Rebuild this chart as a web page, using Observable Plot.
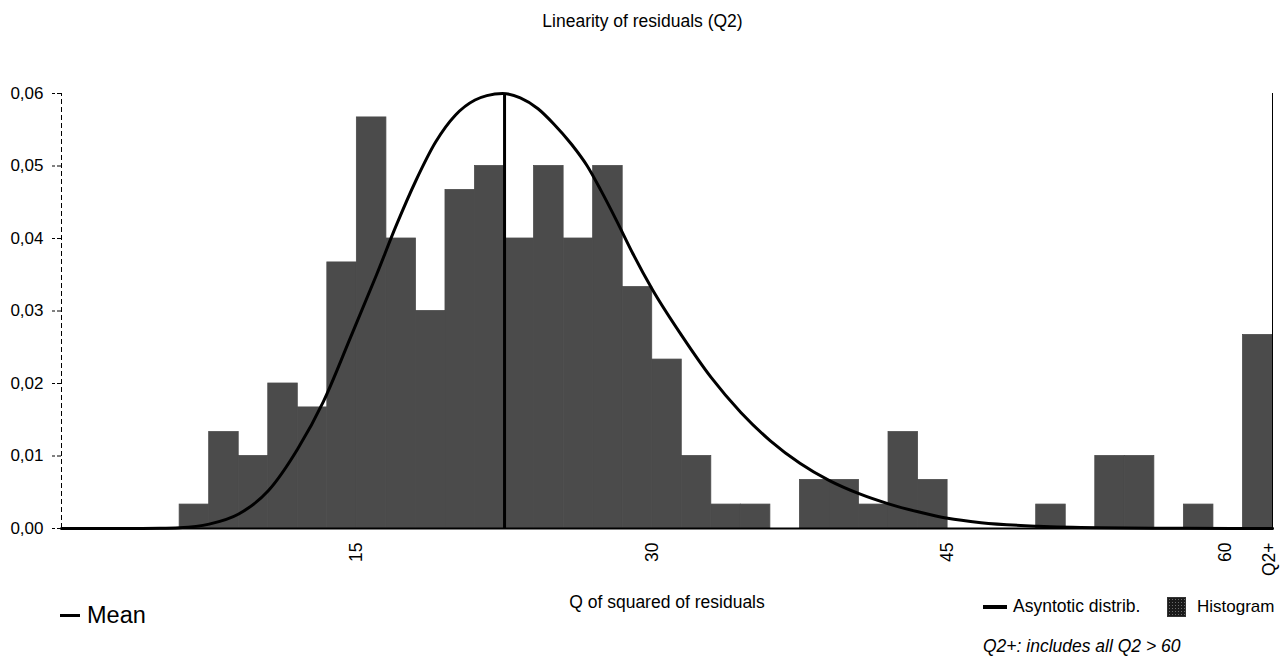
<!DOCTYPE html>
<html>
<head>
<meta charset="utf-8">
<script src="https://cdn.jsdelivr.net/npm/d3@7"></script>
<script src="https://cdn.jsdelivr.net/npm/@observablehq/plot@0.6"></script>
<style>
  body { margin: 0; background: #fff; font-family: "Liberation Sans", Arial, sans-serif; color: #000; }
  #wrap { position: relative; width: 1285px; height: 666px; overflow: hidden; background: #fff; }
  #title { position: absolute; left: 0; top: 10px; width: 1285px; text-align: center; font-size: 17.5px; line-height: 22px; }
  #chart { position: absolute; left: 0; top: 40px; }
  .lg { position: absolute; white-space: nowrap; }
  .dash { position: absolute; background: #000; }
  .sw { position: absolute; background-color: #1a1a1a;
        background-image: radial-gradient(#6a6a6a 0.8px, transparent 0.9px);
        background-size: 3px 3px; border: 1px solid #333; box-sizing: border-box; }
</style>
</head>
<body>
<div id="wrap">
  <div id="title">Linearity of residuals (Q2)</div>
  <div id="chart"></div>

  <div class="dash" style="left:60px;top:614px;width:20px;height:3px;"></div>
  <div class="lg" style="left:87px;top:601px;font-size:23.5px;line-height:28px;">Mean</div>

  <div class="dash" style="left:983px;top:605px;width:24px;height:4px;"></div>
  <div class="lg" style="left:1013px;top:596px;font-size:17.5px;line-height:21px;">Asyntotic distrib.</div>
  <div class="sw" style="left:1167px;top:597px;width:19px;height:20px;"></div>
  <div class="lg" style="left:1197px;top:596px;font-size:17px;line-height:21px;">Histogram</div>
  <div class="lg" style="left:983px;top:636px;font-size:17.5px;line-height:21px;font-style:italic;">Q2+: includes all Q2 &gt; 60</div>
</div>

<script>
// ---- Histogram bins (Q of squared residuals), bin width 1.5 ----
const binLo = [6, 7.5, 9, 10.5, 12, 13.5, 15, 16.5, 18, 19.5, 21, 22.5, 24, 25.5, 27, 28.5, 30, 31.5, 33, 34.5,
               36, 37.5, 39, 40.5, 42, 43.5, 45, 46.5, 48, 49.5, 51, 52.5, 54, 55.5, 57, 58.5, 60];
const binHi = [7.5, 9, 10.5, 12, 13.5, 15, 16.5, 18, 19.5, 21, 22.5, 24, 25.5, 27, 28.5, 30, 31.5, 33, 34.5, 36,
               37.5, 39, 40.5, 42, 43.5, 45, 46.5, 48, 49.5, 51, 52.5, 54, 55.5, 57, 58.5, 60, 61.5];
const density = [0.0033, 0.0133, 0.0100, 0.0200, 0.0167, 0.0367, 0.0567, 0.0400, 0.0300, 0.0467,
                 0.0500, 0.0400, 0.0500, 0.0400, 0.0500, 0.0333, 0.0233, 0.0100, 0.0033, 0.0033,
                 0.0000, 0.0067, 0.0067, 0.0033, 0.0133, 0.0067, 0.0000, 0.0000, 0.0000, 0.0033,
                 0.0000, 0.0100, 0.0100, 0.0000, 0.0033, 0.0000, 0.0267];

// ---- Asymptotic distribution curve ----
const curveQ = [0, 3, 5, 6, 7.5, 9, 10.5, 12, 13.3, 14.7, 16, 17, 18, 19, 20, 21, 21.6, 22.4,
                23.3, 24.2, 25.0, 25.9, 26.7, 27.4, 28.2, 29, 30, 31.5, 33, 34.5, 36, 37.5, 39, 40.5, 42,
                43.5, 45, 46.7, 49.6, 52.7, 57, 61.5];
const curveD = [0, 0, 0.00003, 0.0001, 0.0006, 0.0020, 0.0052, 0.0110, 0.0175, 0.0265, 0.0350, 0.0418, 0.0480,
                0.0533, 0.0570, 0.0591, 0.0597, 0.0600, 0.0594, 0.0579, 0.0558, 0.0530, 0.0500, 0.0466,
                0.0424, 0.0380, 0.0330, 0.0266, 0.0208, 0.0160, 0.0121, 0.0090, 0.0066, 0.0048, 0.0034,
                0.0023, 0.0014, 0.0008, 0.0003, 0.0001, 0.00003, 0];

const meanQ = [22.5];

// ---- Axis ticks ----
const yTicks = [0, 0.01, 0.02, 0.03, 0.04, 0.05, 0.06];
const xTickPos = [15, 30, 45, 59.1, 61.35];
const xTickLabels = ["15", "30", "45", "60", "Q2+"];
const xLabel = "Q of squared of residuals";

const bins = binLo.map((lo, i) => ({lo, hi: binHi[i], d: density[i]}));
const curve = curveQ.map((q, i) => ({q, d: curveD[i]}));

const chart = Plot.plot({
  width: 1285,
  height: 580,
  marginTop: 53,
  marginBottom: 92,
  marginLeft: 61,
  marginRight: 13,
  style: { fontFamily: "'Liberation Sans', Arial, sans-serif", fontSize: "17px", background: "#fff", color: "#000" },
  x: { domain: [0, 61.5] },
  y: { domain: [0, 0.06] },
  marks: [
    Plot.rectY(bins, { x1: "lo", x2: "hi", y: "d", fill: "#4b4b4b", stroke: "#4b4b4b", strokeWidth: 0.8, inset: 0 }),
    Plot.line(curve, { x: "q", y: "d", stroke: "#000", strokeWidth: 3, curve: "monotone-x" }),
    Plot.ruleX(meanQ, { y1: 0, y2: 0.06, stroke: "#000", strokeWidth: 3 }),
    Plot.ruleX([0], { y1: 0, y2: 0.06, stroke: "#000", strokeWidth: 1, strokeDasharray: "5,3" }),
    Plot.ruleX([61.5], { y1: 0, y2: 0.06, stroke: "#000", strokeWidth: 1 }),
    Plot.ruleY([0], { stroke: "#000", strokeWidth: 2 }),
    Plot.axisY(yTicks, {
      tickSize: 9, tickPadding: 9, strokeDasharray: "4,2", stroke: "#000",
      tickFormat: d => d.toFixed(2).replace(".", ","), fontSize: 17, label: null
    }),
    Plot.axisX(xTickPos, {
      tickSize: 0, tickPadding: 14, tickRotate: -90, fontSize: 17.5, label: null,
      tickFormat: (d, i) => xTickLabels[i]
    }),
    Plot.text([xLabel], { frameAnchor: "bottom", dy: 79, fontSize: 17.5, fill: "#000" })
  ]
});
document.getElementById("chart").appendChild(chart);
</script>
</body>
</html>
